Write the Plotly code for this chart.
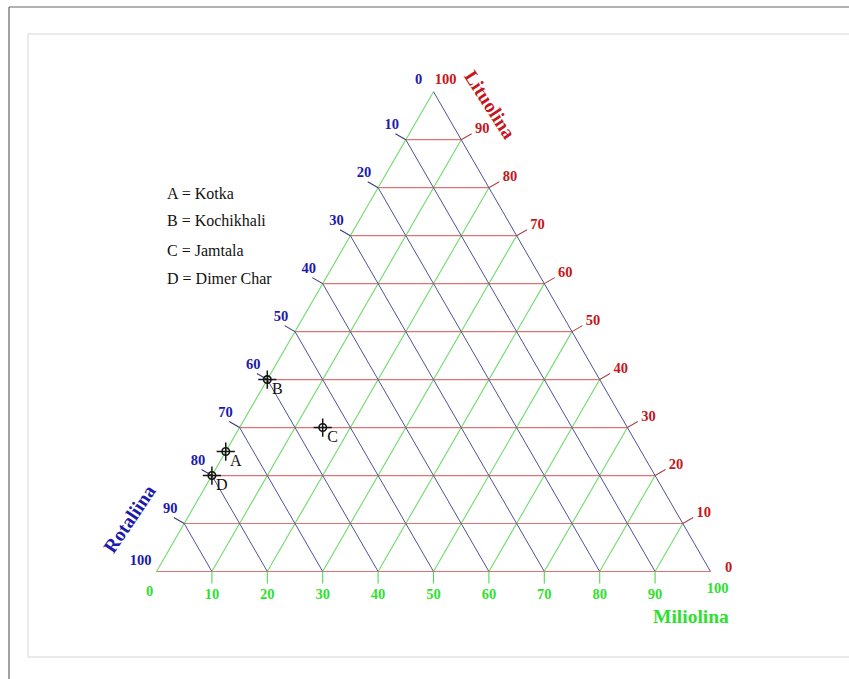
import math
import plotly.graph_objects as go

# ---------------- data ----------------
tick_values = [0, 10, 20, 30, 40, 50, 60, 70, 80, 90, 100]
tick_labels = [str(v) for v in tick_values]
grid_values = [0, 10, 20, 30, 40, 50, 60, 70, 80, 90]
inner_ticks = [10, 20, 30, 40, 50, 60, 70, 80, 90]

site_codes = ["A", "B", "C", "D"]
site_names = ["Kotka", "Kochikhali", "Jamtala", "Dimer Char"]
lituolina = [25, 40, 30, 20]
rotaliina = [75, 60, 55, 80]
miliolina = [0, 0, 15, 0]

# ---------------- geometry & styling ----------------
FIG_W, FIG_H = 849, 679
ORIGIN_PX = (156.5, 571.5)     # Rotaliina corner on the page
SIDE_PX = 554.0                # triangle side length on the page
PX = 100.0 / SIDE_PX           # one screen pixel in data units
S3 = math.sqrt(3) / 2

X_RANGE = [-ORIGIN_PX[0] * PX, (FIG_W - ORIGIN_PX[0]) * PX]
Y_RANGE = [-(FIG_H - ORIGIN_PX[1]) * PX, ORIGIN_PX[1] * PX]

SERIF = "Liberation Serif, Times New Roman, serif"
RED_TXT, BLUE_TXT, GREEN_TXT = "#c4161c", "#1b1bab", "#2fe02f"
RED_GRID, BLUE_GRID, GREEN_GRID = "#e27272", "#50509c", "#6cdc6c"
RED_TICK, BLUE_TICK, GREEN_TICK = "#a84444", "#3a3a80", "#50d850"
TICK_LEN = 12
TICK_FONT = 14.5


def tern_xy(lit, rot, mil):
    """Ternary composition -> plane coordinates (Rotaliina corner at origin)."""
    total = lit + rot + mil
    lit, mil = lit * 100.0 / total, mil * 100.0 / total
    return mil + lit / 2.0, lit * S3


def nudge(x, y, dx, dy):
    """Offset a plane point by screen pixels (dx right, dy down)."""
    return x + dx * PX, y - dy * PX


def segments(pairs):
    xs, ys = [], []
    for (x0, y0), (x1, y1) in pairs:
        xs += [x0, x1, None]
        ys += [y0, y1, None]
    return xs, ys


fig = go.Figure()

# ---- grid lines (edges included as the 0 lines) ----
lit_lines = [(tern_xy(v, 100 - v, 0), tern_xy(v, 0, 100 - v)) for v in grid_values]
rot_lines = [(tern_xy(100 - v, v, 0), tern_xy(0, v, 100 - v)) for v in grid_values]
mil_lines = [(tern_xy(0, 100 - v, v), tern_xy(100 - v, 0, v)) for v in grid_values]
for pairs, col, wid in [(lit_lines, RED_GRID, 1.2), (mil_lines, GREEN_GRID, 1.1), (rot_lines, BLUE_GRID, 1.0)]:
    xs, ys = segments(pairs)
    fig.add_trace(go.Scatter(x=xs, y=ys, mode="lines", line=dict(color=col, width=wid),
                             hoverinfo="skip", showlegend=False))

# ---- tick marks, perpendicular to each side ----
n_left = (-S3, 0.5)
n_right = (S3, 0.5)
n_base = (0.0, -1.0)
tick_specs = [
    ([tern_xy(100 - v, v, 0) for v in inner_ticks], n_left, BLUE_TICK),
    ([tern_xy(v, 0, 100 - v) for v in inner_ticks], n_right, RED_TICK),
    ([tern_xy(0, 100 - v, v) for v in inner_ticks], n_base, GREEN_TICK),
]
for starts, (nx, ny), col in tick_specs:
    pairs = [((x, y), (x + nx * TICK_LEN * PX, y + ny * TICK_LEN * PX)) for x, y in starts]
    xs, ys = segments(pairs)
    fig.add_trace(go.Scatter(x=xs, y=ys, mode="lines", line=dict(color=col, width=1.1),
                             hoverinfo="skip", showlegend=False))

# ---- tick labels ----
label_specs = [
    # side, regular offset, offset at first value, offset at last value, colour
    ("left", (-14, -14.5), (-15, -11.5), (-16, -10.5), BLUE_TXT),
    ("right", (21, -10.5), (18, -3.5), (12, -11.5), RED_TXT),
    ("base", (0, 24), (-7, 21), (7, 18), GREEN_TXT),
]
for side, off, off0, off1, col in label_specs:
    xs, ys = [], []
    for i, v in enumerate(tick_values):
        if side == "left":
            x, y = tern_xy(100 - v, v, 0)
        elif side == "right":
            x, y = tern_xy(v, 0, 100 - v)
        else:
            x, y = tern_xy(0, 100 - v, v)
        o = off0 if i == 0 else (off1 if i == len(tick_values) - 1 else off)
        x, y = nudge(x, y, *o)
        xs.append(x)
        ys.append(y)
    fig.add_trace(go.Scatter(
        x=xs, y=ys, mode="text", text=tick_labels, textposition="middle center",
        textfont=dict(family=SERIF, size=TICK_FONT, color=col, weight="bold"),
        hoverinfo="skip", showlegend=False, cliponaxis=False,
    ))

# ---- sample sites ----
site_xy = [tern_xy(l, r, m) for l, r, m in zip(lituolina, rotaliina, miliolina)]
sx = [p[0] for p in site_xy]
sy = [p[1] for p in site_xy]
fig.add_trace(go.Scatter(
    x=sx, y=sy, mode="markers",
    marker=dict(symbol="circle-open", size=7.5, color="#141414",
                line=dict(width=1.6, color="#141414")),
    hoverinfo="skip", showlegend=False,
))
fig.add_trace(go.Scatter(
    x=sx, y=sy, mode="markers",
    marker=dict(symbol="cross-thin-open", size=13, color="#141414",
                line=dict(width=1.5, color="#141414")),
    customdata=[[n, l, r, m] for n, l, r, m in zip(site_names, lituolina, rotaliina, miliolina)],
    hovertemplate="%{customdata[0]}<br>Lituolina %{customdata[1]}<br>"
                  "Rotaliina %{customdata[2]}<br>Miliolina %{customdata[3]}<extra></extra>",
    showlegend=False,
))
code_xy = [nudge(x, y, 10, 10) for x, y in site_xy]
fig.add_trace(go.Scatter(
    x=[p[0] for p in code_xy], y=[p[1] for p in code_xy], mode="text",
    text=site_codes, textposition="middle center",
    textfont=dict(family=SERIF, size=16, color="#111111"),
    hoverinfo="skip", showlegend=False, cliponaxis=False,
))


# ---------------- annotations & frame ----------------
def pgx(px):
    return px / FIG_W


def pgy(py):
    return 1 - py / FIG_H


annotations = [
    dict(text="<b>Lituolina</b>", x=pgx(490), y=pgy(104), textangle=57,
         font=dict(family=SERIF, size=19.5, color=RED_TXT)),
    dict(text="<b>Rotaliina</b>", x=pgx(129), y=pgy(519), textangle=-56,
         font=dict(family=SERIF, size=19.5, color=BLUE_TXT)),
    dict(text="<b>Miliolina</b>", x=pgx(691), y=pgy(616), textangle=0,
         font=dict(family=SERIF, size=19.5, color=GREEN_TXT)),
]
legend_rows = [193, 221, 250, 278]
for code, name, py in zip(site_codes, site_names, legend_rows):
    annotations.append(dict(text=f"{code} = {name}", x=pgx(165), y=pgy(py),
                            xanchor="left", font=dict(family=SERIF, size=16, color="#111111")))
for ann in annotations:
    ann.update(xref="paper", yref="paper", showarrow=False)
    ann.setdefault("xanchor", "center")
    ann.setdefault("yanchor", "middle")

shapes = [
    dict(type="rect", x0=pgx(28), x1=pgx(870), y0=pgy(34), y1=pgy(657),
         line=dict(color="#e4e4e4", width=1.5)),
    dict(type="line", x0=pgx(9), x1=pgx(870), y0=pgy(7), y1=pgy(7),
         line=dict(color="#666666", width=1.2)),
    dict(type="line", x0=pgx(9), x1=pgx(9), y0=pgy(7), y1=pgy(700),
         line=dict(color="#666666", width=1.2)),
]
for s in shapes:
    s.update(xref="paper", yref="paper", layer="below")

fig.update_layout(
    width=FIG_W, height=FIG_H,
    margin=dict(l=0, r=0, t=0, b=0, pad=0),
    paper_bgcolor="white", plot_bgcolor="white",
    showlegend=False,
    xaxis=dict(range=X_RANGE, visible=False, fixedrange=True),
    yaxis=dict(range=Y_RANGE, visible=False, fixedrange=True),
    annotations=annotations,
    shapes=shapes,
)

fig.write_html("out.html", config=dict(displayModeBar=False))
